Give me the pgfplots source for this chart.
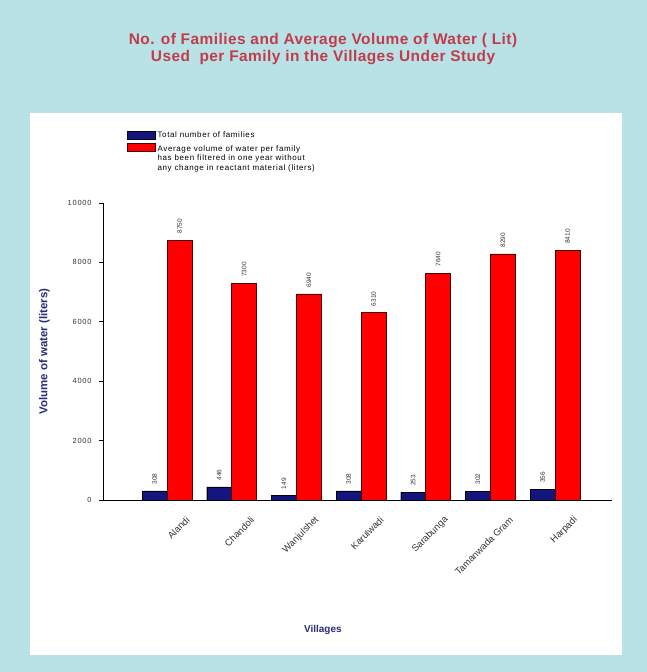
\documentclass[border=0pt]{standalone}
\usepackage{pgfplots}
\pgfplotsset{compat=1.18}
\usepackage{fontspec}
\setmainfont{Liberation Sans}
\definecolor{bgcyan}{HTML}{B9E2E6}
\definecolor{titlered}{HTML}{C23B4C}
\definecolor{navybar}{HTML}{15157E}
\definecolor{labelnavy}{HTML}{2B2B7A}
\pgfplotsset{redleg/.style={legend image code/.code={\draw[##1] (0bp,7bp) rectangle (28bp,15bp);}}}
\begin{document}
\begin{tikzpicture}
\fill[bgcyan] (0bp,0bp) rectangle (647bp,672bp);
\fill[white] (30bp,17bp) rectangle (622bp,559bp);
\node[font=\bfseries\fontsize{15.5}{17.5}\selectfont\addfontfeature{LetterSpace=3}, text=titlered, align=center] at (323bp,623bp) {No. of Families and Average Volume of Water ( Lit)\\Used\ \ per Family in the Villages Under Study};
\begin{axis}[
  at={(103bp,172bp)}, anchor=south west,
  scale only axis, width=509bp, height=297bp,
  ybar=0pt, bar width=25bp,
  xmin=-0.99, xmax=6.88, ymin=0, ymax=10000,
  axis x line=bottom, axis y line=left,
  axis line style={-, black, line width=0.8pt},
  /pgf/number format/assume math mode=true,
  /pgf/number format/1000 sep={},
  xtick=data,
  xticklabels={Alandi, Chandoli, Wanjulshet, Karulwadi, Sarabunga, Tamanwada Gram, Harpadi},
  xticklabel style={rotate=45, anchor=east, font=\fontsize{9.5}{10}\selectfont, text=black!80, xshift=8bp, yshift=-25bp},
  x tick style={draw=none},
  ytick={0,2000,4000,6000,8000,10000},
  yticklabels={0,2000,4000,6000,8000,10000},
  yticklabel style={font=\fontsize{7.5}{8}\selectfont\addfontfeature{LetterSpace=10}, text=black!80, xshift=-4bp},
  tick align=outside, major tick length=4bp,
  y tick style={black, line width=0.7pt},
  scaled y ticks=false,
  ylabel={Volume of water (liters)},
  ylabel style={at={(axis description cs:-0.115,0.5)}, anchor=center, rotate=0, font=\bfseries\fontsize{11.5}{13}\selectfont, text=labelnavy},
  xlabel={Villages},
  xlabel style={at={(axis description cs:0.432,-0.437)}, anchor=center, font=\bfseries\fontsize{10}{12}\selectfont, text=labelnavy},
  nodes near coords,
  nodes near coords style={rotate=90, anchor=west, font=\fontsize{6.5}{7}\selectfont, text=black!80, xshift=3bp},
  legend style={at={(axis description cs:0.045,1.25)}, anchor=north west, draw=none, fill=none, font=\fontsize{8}{9.5}\selectfont\addfontfeature{LetterSpace=8}, cells={anchor=west, align=left}, row sep=2bp, inner sep=1bp},
  legend cell align=left,
  legend image code/.code={\draw[#1] (0bp,-4bp) rectangle (28bp,4bp);},
  /tikz/every even column/.style={column sep=4bp},
]
\addplot[fill=navybar, draw=black, line width=0.4pt] coordinates {(0,308) (1,446) (2,149) (3,308) (4,253) (5,302) (6,356)};
\addlegendentry{Total number of families}
\addplot[fill=red, draw=black!70!red, line width=0.5pt, redleg] coordinates {(0,8750) (1,7300) (2,6940) (3,6310) (4,7640) (5,8290) (6,8410)};
\addlegendentry{Average volume of water per family\\has been filtered in one year without\\any change in reactant material (liters)}
\end{axis}
\end{tikzpicture}
\end{document}
